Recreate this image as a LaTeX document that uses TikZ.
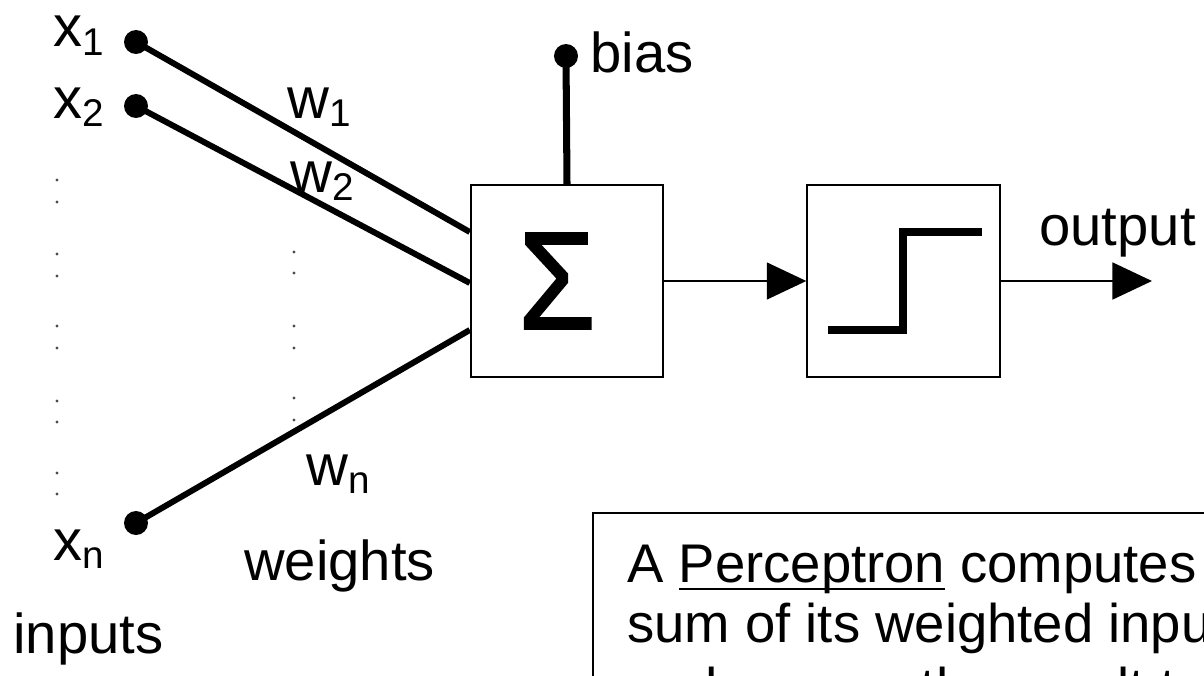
\documentclass[tikz,border=0pt]{standalone}
\usepackage{fontspec}
\setmainfont{Liberation Sans}
\usetikzlibrary{arrows.meta}
\newcommand\lbl[2]{#1\raisebox{-4.8pt}{\fontsize{22pt}{22pt}\selectfont #2}}
\newcommand\ulin[1]{\setbox0\hbox{#1}\rlap{\rule[-4.3pt]{\wd0}{1.1pt}}\box0{}}
\begin{document}
\begin{tikzpicture}[x=0.02cm,y=-0.02cm,
  txt/.style={inner sep=0pt,anchor=base west,font=\fontsize{32pt}{36pt}\selectfont},
  lab/.style={inner sep=0pt,anchor=base west,font=\fontsize{33pt}{36pt}\selectfont},
  boxtxt/.style={inner sep=0pt,anchor=base west,font=\fontsize{31pt}{34pt}\selectfont},
  dot/.style={circle,fill=black,inner sep=0pt,minimum size=0.48cm},
  blk/.style={draw,line width=1.1pt,minimum size=3.85cm,inner sep=0pt},
  wire/.style={line width=3.4pt},
  arr/.style={line width=1.1pt,-{Triangle[length=22.5pt,width=21pt]}},
  colon/.style={fill=black!70},
]
\useasboundingbox (0,0) rectangle (1204,676);
\clip (0,0) rectangle (1204,676);

% blocks
\node[blk] (sum) at (567,281) {};
\node[inner sep=0pt] (sigma) at (557,281) {\fontsize{79pt}{79pt}\selectfont\addfontfeature{FakeBold=1.6}\scalebox{0.9}[1]{Σ}};
\node[blk] (step) at (903.5,281) {};
\draw[line width=4pt] (828,330) -- (903,330) -- (903,232) -- (982,232);

% inputs
\node[dot] (x1) at (136,42) {};
\node[dot] (x2) at (136,106) {};
\node[dot] (xn) at (136,523) {};
\node[dot] (b) at (566,56) {};

\draw[wire] (x1.center) -- ([yshift=0.98cm]sum.west);
\draw[wire] (x2.center) -- ([yshift=-0.04cm]sum.west);
\draw[wire] (xn.center) -- ([yshift=-0.98cm]sum.west);
\draw[line width=4pt] (b.center) -- (sum.north);

% arrows
\coordinate (out) at (1152,281);
\draw[arr] (sum.east) -- (step.west);
\draw[arr] (step.east) -- (out);

% labels
\node[lab] (lx1) at (53,47) {\lbl{x}{1}};
\node[lab] (lx2) at (53,118) {\lbl{x}{2}};
\node[lab] (lxn) at (53,560) {\lbl{x}{n}};
\node[lab] (lw1) at (287,118) {\lbl{w}{1}};
\node[lab] (lw2) at (290,192) {\lbl{w}{2}};
\node[lab] (lwn) at (306,485) {\lbl{w}{n}};
\node[txt] (lbias) at (590,72) {bias};
\node[txt] (lout) at (1039,245) {output};
\node[txt] (lweights) at (244,580) {weights};
\node[txt] (linputs) at (13,653) {inputs};

% colons
\foreach \yy in {180,202,254,276,326,348,401,422,473,494}
  \fill[colon] (57,\yy) circle (1.6);
\foreach \yy in {252,273,326,348,398,420}
  \fill[colon] (294,\yy) circle (1.6);

% text box
\draw[line width=1.1pt] (1260,513) -- (593,513) -- (593,740);
\node[boxtxt] (t1) at (627,582) {A \ulin{Perceptron} computes the weighted};
\node[boxtxt] (t2) at (627,642) {sum of its weighted inputs,};
\node[boxtxt] (t3) at (627,706) {and passes the result to};
\end{tikzpicture}
\end{document}
